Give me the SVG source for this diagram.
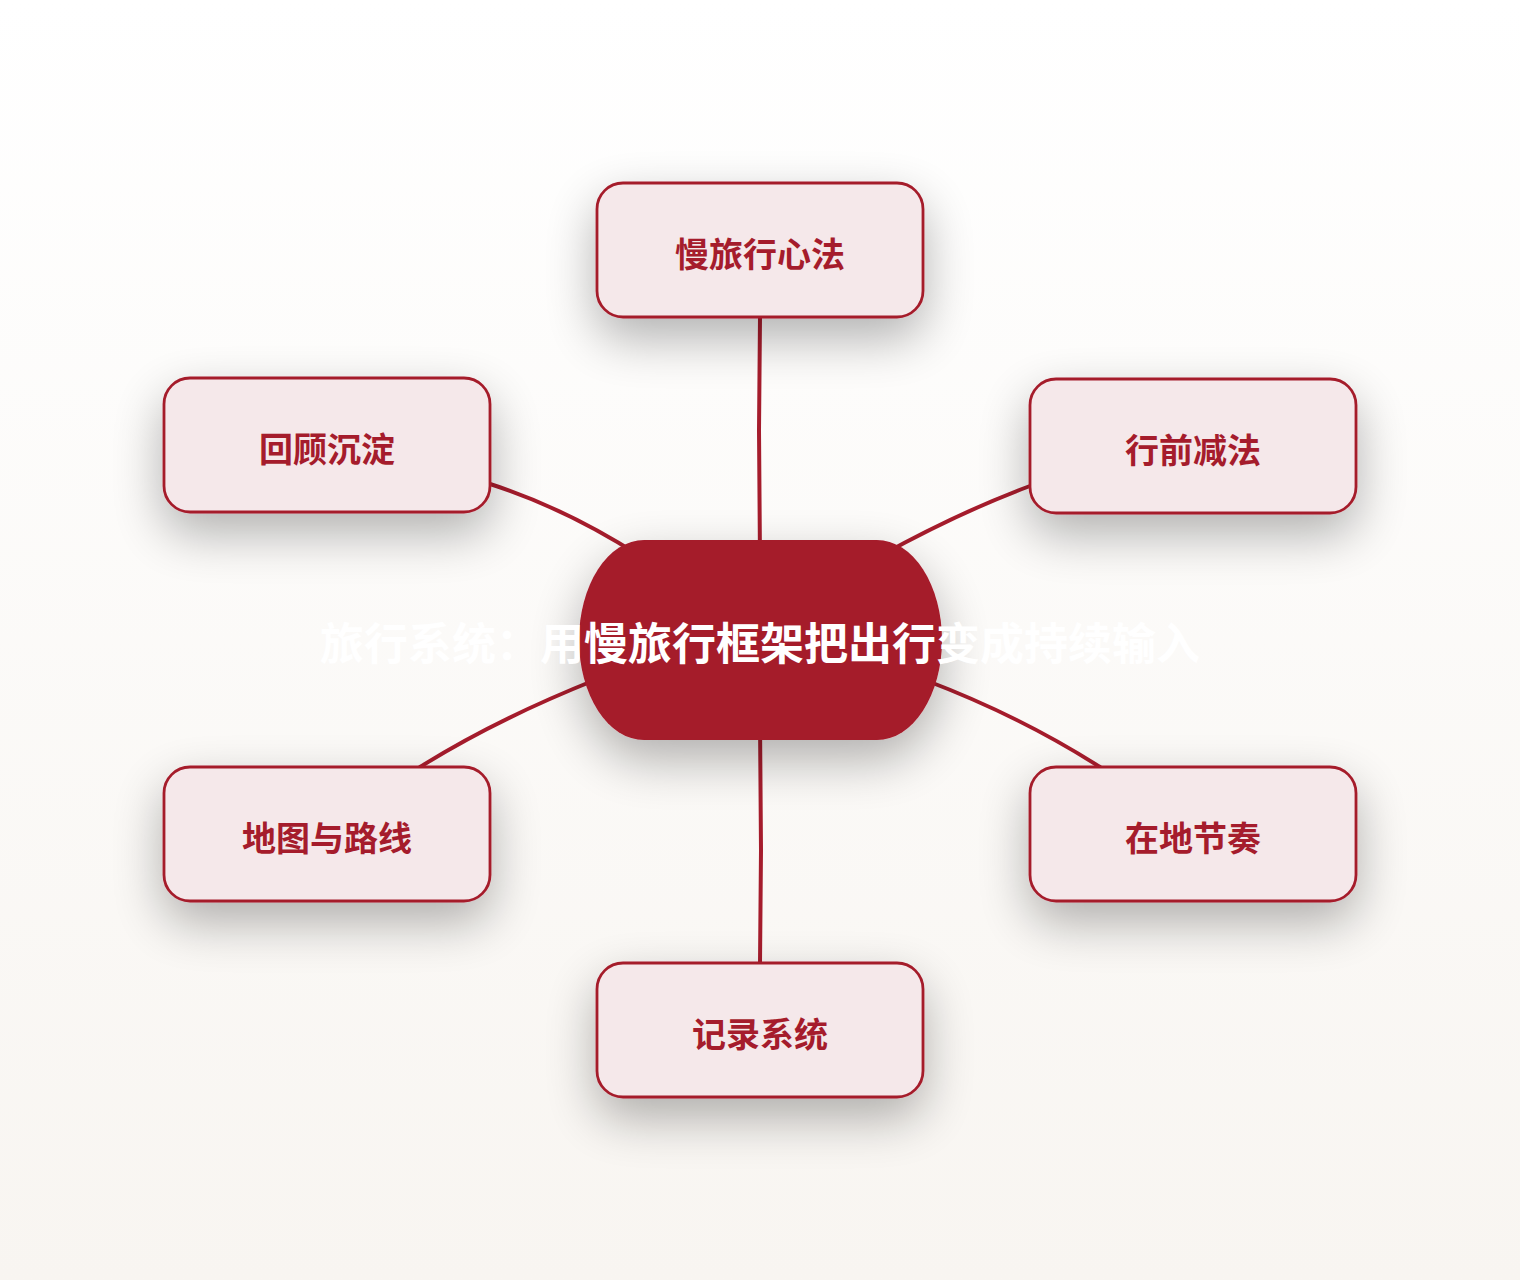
<svg xmlns="http://www.w3.org/2000/svg" width="1520" height="1280" viewBox="0 0 1520 1280">
<defs>
<linearGradient id="bg" x1="0" y1="0" x2="0" y2="1">
<stop offset="0" stop-color="#ffffff"/>
<stop offset="1" stop-color="#f8f5f1"/>
</linearGradient>
<filter id="sh" x="-50%" y="-50%" width="200%" height="240%">
<feGaussianBlur in="SourceAlpha" stdDeviation="25"/>
<feOffset dx="0" dy="20" result="b"/>
<feComponentTransfer><feFuncA type="linear" slope="0.3"/></feComponentTransfer>
<feMerge><feMergeNode/><feMergeNode in="SourceGraphic"/></feMerge>
</filter>
<style>
.leaf rect{fill:#f5e8ea;stroke:#a51c2c;stroke-width:2.8}
.leaf text{fill:#a51c2c;font-family:"Noto Sans CJK SC","Noto Sans",sans-serif;font-weight:700;font-size:34px;text-anchor:middle;dominant-baseline:central}
.edge{fill:none;stroke:#a51c2c;stroke-width:4;stroke-linecap:round}
.center text{fill:#ffffff;font-family:"Noto Sans CJK SC","Noto Sans",sans-serif;font-weight:700;font-size:44px;text-anchor:middle;dominant-baseline:central}
</style>
</defs>
<rect width="1520" height="1280" fill="url(#bg)"/>
<g id="connectors">
<path class="edge" d="M760 317 L759 430 L760 560"/>
<path class="edge" d="M490 484 Q565 508 640 556"/>
<path class="edge" d="M1030 486 Q960 512 880 556"/>
<path class="edge" d="M420 767 Q495 720 595 680"/>
<path class="edge" d="M1100 767 Q1020 716 925 680"/>
<path class="edge" d="M760 963 L761 850 L760 720"/>
</g>
<g id="center" class="center">
<rect x="579" y="540" width="363" height="200" rx="65" ry="100" fill="#a51a2a" filter="url(#sh)"/>
<text x="760" y="641">旅行系统：用慢旅行框架把出行变成持续输入</text>
</g>
<g id="n1" class="leaf"><rect x="597" y="183" width="326" height="134" rx="26" filter="url(#sh)"/><text x="760" y="252">慢旅行心法</text></g>
<g id="n2" class="leaf"><rect x="1030" y="379" width="326" height="134" rx="26" filter="url(#sh)"/><text x="1193" y="448">行前减法</text></g>
<g id="n3" class="leaf"><rect x="1030" y="767" width="326" height="134" rx="26" filter="url(#sh)"/><text x="1193" y="836">在地节奏</text></g>
<g id="n4" class="leaf"><rect x="597" y="963" width="326" height="134" rx="26" filter="url(#sh)"/><text x="760" y="1032">记录系统</text></g>
<g id="n5" class="leaf"><rect x="164" y="767" width="326" height="134" rx="26" filter="url(#sh)"/><text x="327" y="836">地图与路线</text></g>
<g id="n6" class="leaf"><rect x="164" y="378" width="326" height="134" rx="26" filter="url(#sh)"/><text x="327" y="447">回顾沉淀</text></g>
</svg>
